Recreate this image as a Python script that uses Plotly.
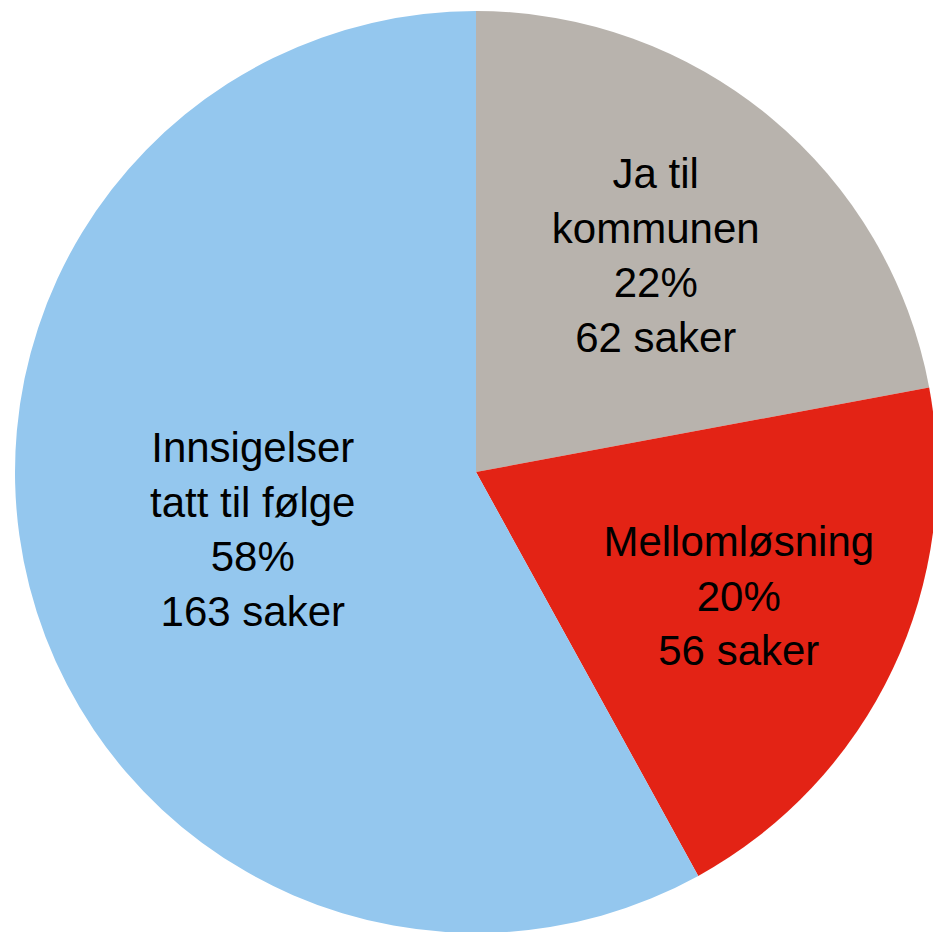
import plotly.graph_objects as go

labels = ["Ja til<br>kommunen", "Mellomløsning", "Innsigelser<br>tatt til følge"]
cases = [62, 56, 163]
colors = ["#B8B3AD", "#E32315", "#94C7EE"]

texts = [f"{l}<br>%{{percent:.0%}}<br>{v} saker" for l, v in zip(labels, cases)]

fig = go.Figure(go.Pie(
    labels=[l.replace("<br>", " ") for l in labels],
    values=cases,
    texttemplate=texts,
    textinfo="text",
    textposition="inside",
    insidetextorientation="horizontal",
    sort=False,
    direction="clockwise",
    rotation=0,
    marker=dict(colors=colors, line=dict(width=0)),
    textfont=dict(family="Liberation Sans, Arial, sans-serif", size=42, color="black"),
    showlegend=False,
    domain=dict(x=[0, 1], y=[0, 1]),
))
fig.update_layout(
    width=940, height=940,
    margin=dict(l=15, r=3, t=11, b=7),
    paper_bgcolor="white",
    plot_bgcolor="white",
)
fig.write_html(
    "out.html",
    config={"displayModeBar": False},
    post_script="document.body.style.margin='0';document.body.style.overflow='hidden';",
)
